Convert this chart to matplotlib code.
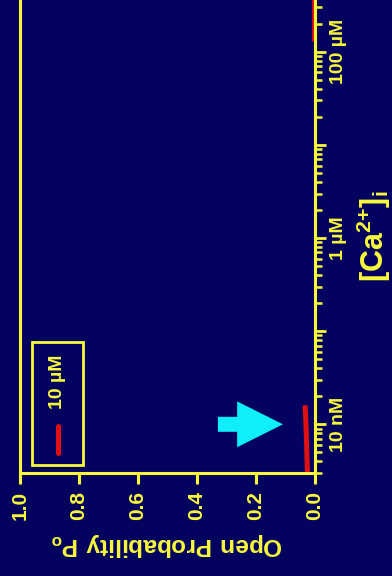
import matplotlib
matplotlib.use("Agg")
import matplotlib.pyplot as plt
from matplotlib.patches import Rectangle
from matplotlib.ticker import FixedLocator, FixedFormatter, LogLocator, NullFormatter

# Open probability vs. cytosolic calcium, 10 uM condition
ca_low = [3e-9, 5e-9, 8e-9, 1.2e-8, 1.6e-8]
po_low = [0.024, 0.026, 0.028, 0.030, 0.032]
ca_high = [1.3e-4, 2.0e-4, 4.0e-4]
po_high = [0.004, 0.004, 0.004]

po_ticks = [1.0, 0.8, 0.6, 0.4, 0.2, 0.0]
po_ticklabels = ["1.0", "0.8", "0.6", "0.4", "0.2", "0.0"]
ca_major = [1e-9, 1e-8, 1e-7, 1e-6, 1e-5, 1e-4, 1e-3]
ca_ticklabels = ["", "10 nM", "", "1 \u00b5M", "", "100 \u00b5M", ""]
legend_label = "10 \u00b5M"
arrow_ca = 1e-8
arrow_from, arrow_to = 0.328, 0.107

NAVY = "#03035f"
YELLOW = "#f8f83a"
RED = "#e01010"
CYAN = "#10eefa"

plt.rcParams["font.family"] = ["Liberation Sans", "DejaVu Sans"]
plt.rcParams["font.weight"] = "bold"
plt.rcParams["mathtext.fontset"] = "custom"
plt.rcParams["mathtext.bf"] = "Liberation Sans:bold"
plt.rcParams["mathtext.rm"] = "Liberation Sans:bold"

fig = plt.figure(figsize=(3.92, 5.76), dpi=100, facecolor=NAVY)
ax = fig.add_axes([20 / 392, 1 - 473 / 576, 294.5 / 392, 473 / 576])
ax.set_facecolor(NAVY)

ax.plot(po_low, ca_low, color=RED, lw=3.6, solid_capstyle="butt", zorder=2)
ax.plot(po_high, ca_high, color=RED, lw=2.0, solid_capstyle="butt", zorder=1)

ax.set_yscale("log")
ax.set_xlim(1.0, 0.0)
ax.set_ylim(3e-9, 3.6e-4)

for side in ("left", "right", "bottom"):
    ax.spines[side].set_color(YELLOW)
    ax.spines[side].set_linewidth(2.2)
    ax.spines[side].set_zorder(3)
ax.spines["top"].set_visible(False)

ax.xaxis.set_major_locator(FixedLocator(po_ticks))
ax.xaxis.set_major_formatter(FixedFormatter(po_ticklabels))
ax.tick_params(axis="x", direction="out", length=8, width=2.2, color=YELLOW,
               labelcolor=YELLOW, labelsize=15, labelrotation=90, pad=5)

ax.yaxis.tick_right()
ax.yaxis.set_label_position("right")
ax.yaxis.set_major_locator(FixedLocator(ca_major))
ax.yaxis.set_major_formatter(FixedFormatter(ca_ticklabels))
ax.yaxis.set_minor_locator(LogLocator(base=10, subs=range(2, 10), numticks=20))
ax.yaxis.set_minor_formatter(NullFormatter())
ax.tick_params(axis="y", which="major", direction="out", length=8, width=2.0,
               color=YELLOW, labelcolor=YELLOW, labelsize=14, labelrotation=90, pad=3)
ax.tick_params(axis="y", which="minor", direction="out", length=5, width=1.8,
               color=YELLOW)
for lbl in ax.get_yticklabels():
    lbl.set_verticalalignment("center")

ax.set_xlabel(r"$\mathbf{Open\ Probability\ P_o}$", color=YELLOW, fontsize=17.5,
              rotation=180, labelpad=8)
ax.set_ylabel(r"$\mathbf{[Ca^{2{+}}]_i}$", color=YELLOW, fontsize=22,
              rotation=90, labelpad=6)

# legend box
ax.add_patch(Rectangle((0.041, 0.017), 0.173, 0.260, transform=ax.transAxes,
                       fill=False, edgecolor=YELLOW, lw=2.0, zorder=4))
ax.plot([0.129, 0.129], [0.042, 0.099], transform=ax.transAxes, color=RED,
        lw=3.6, solid_capstyle="round", zorder=4)
ax.text(0.126, 0.192, legend_label, transform=ax.transAxes, color=YELLOW,
        fontsize=14, rotation=90, ha="center", va="center", zorder=4)

# arrow pointing at the low-calcium data
ax.annotate("", xy=(arrow_to, arrow_ca), xytext=(arrow_from, arrow_ca),
            arrowprops=dict(arrowstyle="simple,head_length=3.3,head_width=3.3,tail_width=1.08",
                            color=CYAN, mutation_scale=10, shrinkA=0, shrinkB=0, lw=0))

fig.savefig("out.png", dpi=100, facecolor=NAVY)
